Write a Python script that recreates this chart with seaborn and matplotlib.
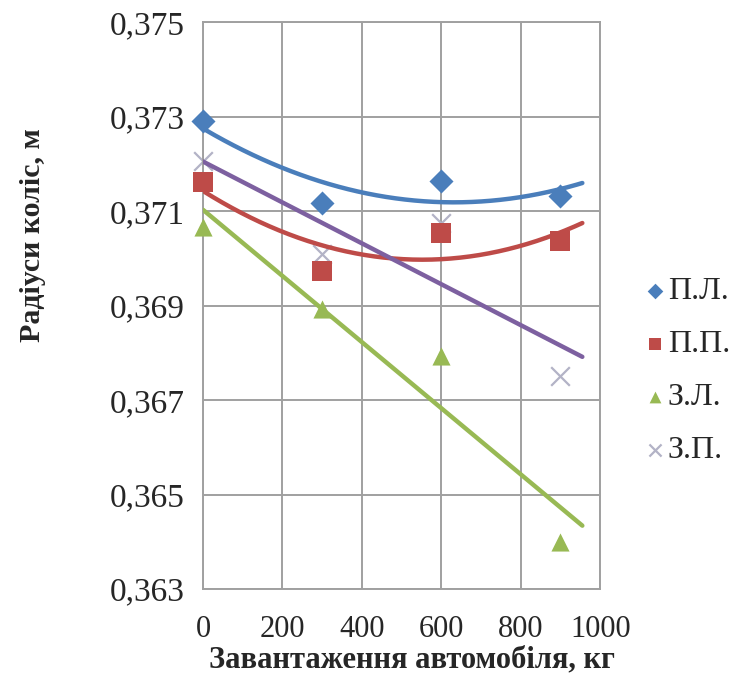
import numpy as np
import pandas as pd
import matplotlib
matplotlib.use('Agg')
import matplotlib.pyplot as plt
import seaborn as sns

# load, kg
load = [0, 300, 600, 900]

# wheel radii, m
pl = [0.3729, 0.37117, 0.37164, 0.37132]
pp = [0.37161, 0.36973, 0.37053, 0.37037]
zl = [0.37066, 0.36893, 0.36793, 0.36399]
zp = [0.37206, 0.37009, 0.37075, 0.36751]

series_names = ['П.Л.', 'П.П.', 'З.Л.', 'З.П.']
x_ticks = [0, 200, 400, 600, 800, 1000]
y_ticks = [0.363, 0.365, 0.367, 0.369, 0.371, 0.373, 0.375]

sns.set_theme(style='white')
plt.rcParams['font.family'] = ['Liberation Serif', 'DejaVu Serif']

df = pd.DataFrame({
    'x': load * 4,
    'y': pl + pp + zl + zp,
    'series': [s for s in series_names for _ in load],
})

marker_map = {'П.Л.': 'D', 'П.П.': 's', 'З.Л.': '^', 'З.П.': 'x'}
marker_col = {'П.Л.': '#4A7EBB', 'П.П.': '#BE4B48', 'З.Л.': '#98B954', 'З.П.': '#B3B3C6'}
marker_size = {'П.Л.': 150, 'П.П.': 190, 'З.Л.': 170, 'З.П.': 180}
line_col = {'П.Л.': '#4A7EBB', 'П.П.': '#BE4B48', 'З.Л.': '#98B954', 'З.П.': '#7D60A0'}
# Excel-style trendlines: polynomial (2) for front wheels, linear for rear
trend_deg = {'П.Л.': 2, 'П.П.': 2, 'З.Л.': 1, 'З.П.': 1}
z_marker = {'П.Л.': 3, 'П.П.': 3, 'З.Л.': 3, 'З.П.': 2}

fig = plt.figure(figsize=(7.41, 6.97), dpi=100)
ax = fig.add_axes([0.274, 0.155, 0.536, 0.813])

for name in series_names:
    d = df[df['series'] == name]
    lw = 1.6 if name == 'З.П.' else 0
    sns.scatterplot(data=d, x='x', y='y', marker=marker_map[name], s=marker_size[name],
                    color=marker_col[name], edgecolor=marker_col[name], linewidth=lw,
                    label=name, ax=ax, zorder=z_marker[name], clip_on=False)

xs = np.linspace(0, 955, 200)
for name in series_names:
    d = df[df['series'] == name]
    coef = np.polyfit(d['x'], d['y'], trend_deg[name])
    sns.lineplot(x=xs, y=np.polyval(coef, xs), color=line_col[name], linewidth=3.2,
                 ax=ax, zorder=4, legend=False, label='_nolegend_')

ax.set_xlim(0, 1000)
ax.set_ylim(0.363, 0.375)
ax.set_xticks(x_ticks)
ax.set_yticks(y_ticks)
ax.set_xticklabels([str(v) for v in x_ticks], fontsize=22)
ax.set_yticklabels([f'{v:.3f}'.replace('.', ',') for v in y_ticks], fontsize=24)
ax.tick_params(axis='y', length=0, pad=13)
ax.tick_params(axis='x', length=0, pad=19)
ax.grid(True, color='#A0A0A0', linewidth=1.4)
for sp in ax.spines.values():
    sp.set_color('#A0A0A0')
    sp.set_linewidth(1.4)

ax.set_xlabel('Завантаження автомобіля, кг', fontsize=22, fontweight='bold')
ax.set_ylabel('Радіуси коліс, м', fontsize=21.5, fontweight='bold')
ax.xaxis.set_label_coords(0.527, -0.100)
ax.yaxis.set_label_coords(-0.395, 0.624)

leg = ax.legend(loc='center left', frameon=False, fontsize=23, handletextpad=0.0,
                labelspacing=0.74, borderaxespad=0, borderpad=0,
                markerscale=0.65, handlelength=0.8)
leg.set_bbox_to_anchor((1.106, 0.385), transform=ax.transAxes)

fig.savefig('out.png', dpi=100)
